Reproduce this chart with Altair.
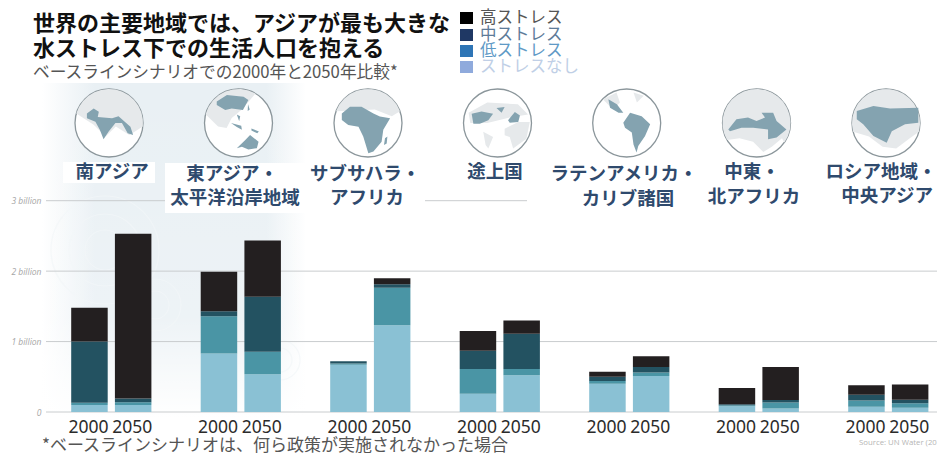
import math
import altair as alt
import pandas as pd

# Regions and years on the horizontal axis
regions = ["南アジア", "東アジア・太平洋沿岸地域", "サブサハラ・アフリカ", "途上国",
           "ラテンアメリカ・カリブ諸国", "中東・北アフリカ", "ロシア地域・中央アジア"]
years = ["2000", "2050"]

# Population under each stress level, in billions: 2000 and 2050 per region
none_vals = [0.10, 0.10, 0.83, 0.535, 0.67, 1.23, 0.26, 0.52, 0.40, 0.51, 0.08, 0.05, 0.075, 0.06]
low_vals = [0.03, 0.04, 0.53, 0.32, 0.02, 0.535, 0.35, 0.09, 0.04, 0.05, 0.015, 0.085, 0.09, 0.065]
mid_vals = [0.87, 0.05, 0.07, 0.78, 0.03, 0.05, 0.26, 0.50, 0.06, 0.08, 0.015, 0.035, 0.08, 0.05]
high_vals = [0.48, 2.34, 0.56, 0.80, 0.0, 0.085, 0.28, 0.19, 0.07, 0.15, 0.23, 0.47, 0.135, 0.215]

levels = ["ストレスなし", "低ストレス", "中ストレス", "高ストレス"]
bar_colors = ["#8ac1d4", "#4a95a5", "#235261", "#231f20"]

legend_labels = ["高ストレス", "中ストレス", "低ストレス", "ストレスなし"]
legend_swatches = ["#000000", "#1f3864", "#2e75b6", "#8faadc"]
legend_text = ["#555555", "#5d7b99", "#5f9ac6", "#c0cfe6"]

y_ticks = [0, 1, 2, 3]

JP = "Noto Sans CJK JP"
LATIN = "Noto Sans"

rows = []
for r, region in enumerate(regions):
    for y, year in enumerate(years):
        i = 2 * r + y
        for rank, series in enumerate([none_vals, low_vals, mid_vals, high_vals]):
            rows.append({"region": region, "year": year, "level": levels[rank],
                         "rank": rank, "value": series[i]})
bars_df = pd.DataFrame(rows)
years_df = pd.DataFrame([{"region": r, "year": y} for r in regions for y in years])
one = pd.DataFrame({"k": [0]})

x_scale = alt.Scale(domain=regions, range=[67.6, 932], paddingInner=0.325, paddingOuter=0)
off_scale = alt.Scale(domain=years, paddingInner=0.165, paddingOuter=0.0825)
y_scale = alt.Scale(domain=[0, 3], range=[412, 200.7], nice=False)
y_axis = alt.Axis(values=y_ticks, title=None, offset=-46, domain=False, ticks=False, grid=False,
                  labelPadding=5, labelFont="Open Sans", labelFontStyle="italic", labelFontSize=8.5,
                  labelColor="#a6a6a6",
                  labelExpr="datum.value == 0 ? '0' : datum.value + ' billion'")


def text(s, x, y, size, color, weight="normal", align="left", font=JP, **kw):
    return alt.Chart(one).mark_text(text=s, fontSize=size, color=color, fontWeight=weight,
                                    align=align, baseline="middle", font=font, **kw).encode(
        x=alt.value(x), y=alt.value(y))


def box(x0, x1, y0, y1, fill="white"):
    return alt.Chart(one).mark_rect(color=fill).encode(
        x=alt.value(x0), x2=alt.value(x1), y=alt.value(y0), y2=alt.value(y1))


def ring_points(a0, a1, step=12):
    n = max(1, int(abs(a1 - a0) / step))
    return [(math.cos(math.radians(a0 + (a1 - a0) * i / n)),
             math.sin(math.radians(a0 + (a1 - a0) * i / n))) for i in range(n + 1)]


def to_path(*polys):
    out = []
    for poly in polys:
        out.append("M" + "L".join(f"{px:.3f},{py:.3f}" for px, py in poly) + "Z")
    return "".join(out)


# Locator globes: outline, pale land, highlighted region
R = 34
GLOBE_SIZE = (2 * R) ** 2
globe_x = [109, 238.5, 368, 497.5, 626.7, 756.5, 886]
globe_y = 123

land_shapes = [
    [ring_points(196, 366) + [(.6, .35), (.2, .1), (-.1, .4), (-.45, .05)]],
    [ring_points(195, 300) + [(.1, -.4), (-.2, -.15), (-.35, .15), (-.6, .1)]],
    [ring_points(200, 340) + [(.7, -.2), (.2, -.4), (-.7, -.35)]],
    [[(-.42, .26), (-.13, .41), (-.27, .75), (-.35, .65)],
     [(.21, .17), (.61, -.03), (.95, -.03), (.85, .46), (.46, .75), (.36, .41), (.21, .36)],
     [(-.85, -.3), (-.3, -.6), (.6, -.55), (.9, -.25), (.3, -.15), (-.3, 0), (-.8, 0)]],
    [[(-.7, -.7), (-.3, -.9), (-.2, -.6), (-.4, -.4)], [(.2, -.9), (.5, -.8), (.3, -.6)]],
    [ring_points(150, 395) + [(.75, .45), (.45, .7), (.2, .85), (-.1, .55), (-.5, .45)]],
    [ring_points(165, 375) + [(.7, .45), (.3, .75), (-.1, .7), (-.5, .4)]],
]
focus_shapes = [
    [[(-.65, -.28), (-.45, -.43), (-.3, -.33), (-.33, -.18), (.09, -.14), (.28, -.2), (.63, .11),
      (.71, .35), (.55, .3), (.38, 0), (.19, 0), (-.01, .25), (-.16, .48), (-.27, .2), (-.4, -.04),
      (-.65, -.14)]],
    [[(-.64, -.63), (-.34, -.82), (.15, -.77), (.29, -.68), (.13, -.38), (-.2, -.43), (-.39, -.38),
      (-.64, -.53)],
     [(-.05, .74), (.2, .5), (.34, .35), (.59, .55), (.54, .74), (.29, .78), (.1, .7)],
     [(-.22, 0), (.08, .08), (.1, .2), (-.05, .12)],
     [(.28, -.55), (.33, -.4), (.27, -.35)],
     [(.38, .16), (.6, .25), (.55, .3), (.38, .22)],
     [(-.05, -.25), (.05, -.2), (.02, -.05)]],
    [[(-.77, -.28), (-.53, -.48), (-.19, -.48), (.16, -.28), (.35, -.19), (.65, -.14), (.45, .2),
      (.4, .55), (.16, .84), (.01, .89), (-.14, .4), (-.28, .11), (-.58, .06), (-.77, -.09)],
     [(.5, .45), (.57, .4), (.55, .6), (.47, .65)]],
    [[(-.76, -.27), (-.47, -.34), (-.13, -.27), (-.27, -.08), (-.52, .02), (-.71, .02)],
     [(-.03, -.44), (.21, -.47), (.12, -.3)],
     [(.31, -.08), (.51, -.32), (.66, -.22), (.61, -.03), (.36, -.01)]],
    [[(-.54, -.7), (-.29, -.55), (-.1, -.3), (-.24, -.3), (-.49, -.45)],
     [(-.1, -.01), (.1, -.3), (.44, -.2), (.69, .04), (.54, .38), (.34, .68), (.29, .87),
      (.2, .63), (.15, .28), (-.05, .14)]],
    [[(-.83, .19), (-.59, -.11), (-.25, -.16), (0, -.06), (.25, -.16), (.15, -.3), (.49, -.3),
      (.59, -.06), (.88, .19), (.59, .43), (.34, .48), (.34, .19), (-.1, .14), (-.44, .14),
      (-.78, .24)]],
    [[(-.86, -.35), (-.37, -.5), (.12, -.43), (.95, -.45), (.95, -.01), (.56, .04), (.17, .24),
      (.02, .58), (-.37, .38), (-.67, .04), (-.86, -.11)]],
]

layers = []

# Washed backdrop behind the first two regions
layers.append(alt.Chart(one).mark_rect(color=alt.LinearGradient(
    gradient="linear", x1=0, x2=1, y1=0, y2=0,
    stops=[alt.GradientStop(offset=0, color="#ffffff"),
           alt.GradientStop(offset=0.2, color="#e9f0f4"),
           alt.GradientStop(offset=0.85, color="#e9f0f4"),
           alt.GradientStop(offset=1, color="#ffffff")])).encode(
    x=alt.value(42), x2=alt.value(306), y=alt.value(83), y2=alt.value(418)))
layers.append(alt.Chart(one).mark_rect(color=alt.LinearGradient(
    gradient="linear", x1=0, x2=0, y1=0, y2=1,
    stops=[alt.GradientStop(offset=0, color="rgba(255,255,255,0)"),
           alt.GradientStop(offset=0.7, color="rgba(255,255,255,0.2)"),
           alt.GradientStop(offset=1, color="rgba(255,255,255,1)")])).encode(
    x=alt.value(42), x2=alt.value(306), y=alt.value(83), y2=alt.value(418)))

# Faint water ripples on the backdrop
for cx, cy, rad in [(105, 250, 20), (105, 250, 36), (105, 250, 54), (155, 305, 14),
                    (155, 305, 26), (280, 360, 12), (280, 360, 20)]:
    layers.append(alt.Chart(one).mark_point(shape="circle", size=(2 * rad) ** 2, color="#f3f7f9",
                                            strokeWidth=1.2, opacity=0.7).encode(
        x=alt.value(cx), y=alt.value(cy)))

# Gridlines
layers.append(alt.Chart(pd.DataFrame({"tick": y_ticks})).mark_rule(color="#c9ccce", strokeWidth=1).encode(
    y=alt.Y("tick:Q", scale=y_scale, axis=y_axis), x=alt.value(46), x2=alt.value(937)))

# Knock-outs that interrupt the top gridline around the region names
layers += [box(305, 425, 195, 207), box(527, 937, 195, 207),
           box(63, 155, 162, 183), box(165, 305, 163, 213)]

# Stacked bars
layers.append(alt.Chart(bars_df).mark_bar().encode(
    x=alt.X("region:N", sort=regions, scale=x_scale, axis=None),
    xOffset=alt.XOffset("year:N", scale=off_scale),
    y=alt.Y("value:Q", stack="zero", scale=y_scale, axis=y_axis),
    color=alt.Color("level:N", scale=alt.Scale(domain=levels, range=bar_colors), legend=None),
    order=alt.Order("rank:Q"),
))

# Year labels under each bar
layers.append(alt.Chart(years_df).mark_text(font=LATIN, fontSize=17.5, color="#2b2b2b", baseline="middle",
                                            dx=-1).encode(
    x=alt.X("region:N", sort=regions, scale=x_scale, axis=None),
    xOffset=alt.XOffset("year:N", scale=off_scale),
    y=alt.value(428),
    text="year:N",
))

# Globes
for i, cx in enumerate(globe_x):
    layers.append(alt.Chart(one).mark_point(shape="circle", size=GLOBE_SIZE, filled=True, fill="white",
                                            stroke="#8b969b", strokeWidth=1.3, opacity=1).encode(
        x=alt.value(cx), y=alt.value(globe_y)))
    layers.append(alt.Chart(one).mark_point(shape=to_path(*land_shapes[i]), size=GLOBE_SIZE, filled=True,
                                            color="#e6e9eb", opacity=1).encode(
        x=alt.value(cx), y=alt.value(globe_y)))
    layers.append(alt.Chart(one).mark_point(shape=to_path(*focus_shapes[i]), size=GLOBE_SIZE, filled=True,
                                            color="#84a3b0", opacity=1).encode(
        x=alt.value(cx), y=alt.value(globe_y)))

# Region names
NAVY = "#2f4a6d"
for s, x, y in [("南アジア", 112, 172),
                ("東アジア・", 232, 174), ("太平洋沿岸地域", 235, 198),
                ("サブサハラ・", 365, 174), ("アフリカ", 367, 198),
                ("途上国", 495, 172),
                ("ラテンアメリカ・", 624, 174), ("カリブ諸国", 628, 199),
                ("中東・", 752, 172), ("北アフリカ", 754, 197),
                ("ロシア地域・", 881, 172), ("中央アジア", 887, 196)]:
    layers.append(text(s, x, y, 18.5, NAVY, weight="bold", align="center"))

# Headline block
layers.append(text("世界の主要地域では、アジアが最も大きな", 33, 24, 22, "#111111", weight="bold"))
layers.append(text("水ストレス下での生活人口を抱える", 33, 49, 22, "#111111", weight="bold"))
layers.append(text("ベースラインシナリオでの2000年と2050年比較*", 33, 73, 16.7, "#555555"))

# Stress-level key
key_y = [18, 35, 51, 67]
for lab, swatch, col, yy in zip(legend_labels, legend_swatches, legend_text, key_y):
    layers.append(box(460, 473, yy - 6, yy + 6, fill=swatch))
    layers.append(text(lab, 480, yy, 16.5, col))

# Footnote and source
layers.append(text("*ベースラインシナリオは、何ら政策が実施されなかった場合", 42, 445.5, 17, "#555555"))
layers.append(text("Source: UN Water (20", 859, 443, 7.8, "#b5b5b5", font="Open Sans"))

chart = alt.layer(*layers).properties(
    width=937, height=454,
    padding=0,
    autosize=alt.AutoSizeParams(type="none"),
    background="white",
).configure_view(stroke=None)

chart.save("out.html", embed_options={"renderer": "svg", "actions": False})
